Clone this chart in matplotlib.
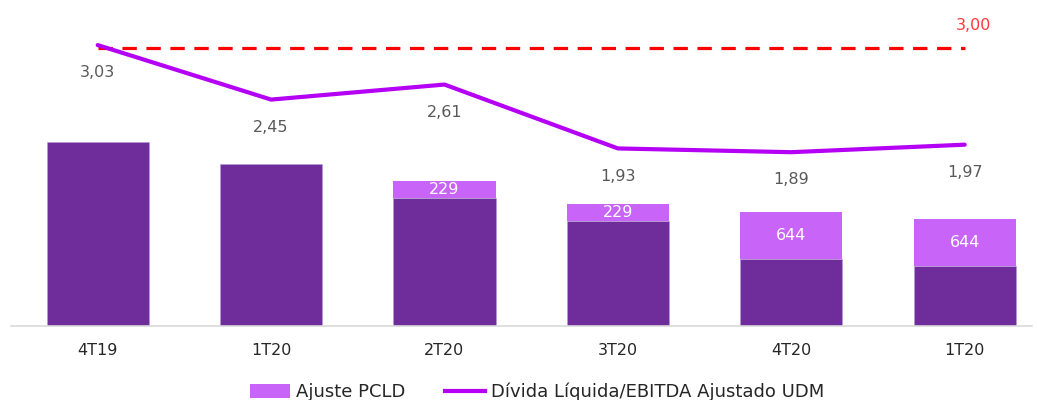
import matplotlib
matplotlib.use("Agg")
import matplotlib.pyplot as plt
from matplotlib.patches import Patch
from matplotlib.lines import Line2D

categories = ["4T19", "1T20", "2T20", "3T20", "4T20", "1T20"]
divida_base = [2510, 2210, 1750, 1435, 915, 820]
ajuste_pcld = [0, 0, 229, 229, 644, 644]
alavancagem = [3.03, 2.45, 2.61, 1.93, 1.89, 1.97]
covenant = [3.00] * 6
alav_labels = ["3,03", "2,45", "2,61", "1,93", "1,89", "1,97"]
covenant_label = "3,00"

DARK = "#6E2D9B"
LIGHT = "#C864F8"
LINE = "#B400F5"
RED = "#FF0000"
GRAY = "#595959"
FONT = "DejaVu Sans"

W, H = 1037, 400
fig = plt.figure(figsize=(W / 100, H / 100), dpi=100)
left_px, right_px, base_px, top_px = 11, 1032, 326, 0
ax = fig.add_axes([left_px / W, 1 - base_px / H, (right_px - left_px) / W, (base_px - top_px) / H])
x = list(range(len(categories)))
spacing = 173.4
ax.set_xlim(-0.5, -0.5 + (right_px - left_px) / spacing)
ax.set_ylim(0, 4450)

bw = 0.59
ax.bar(x, divida_base, width=bw, color=DARK, edgecolor="#B99AD6", linewidth=0.4, zorder=2)
ax.bar(x, ajuste_pcld, width=bw, bottom=divida_base, color=LIGHT, linewidth=0, zorder=2)
for xi, b, a in zip(x, divida_base, ajuste_pcld):
    if a > 0:
        ax.text(xi, b + a / 2, f"{a}", color="white", ha="center", va="center",
                fontsize=11.5, family=FONT, zorder=4)

for s in ["top", "right", "left"]:
    ax.spines[s].set_visible(False)
ax.spines["bottom"].set_color("#D9D9D9")
ax.spines["bottom"].set_linewidth(1.2)
ax.set_yticks([])
ax.set_xticks(x)
ax.set_xticklabels(categories, fontsize=11.5, color="#262626", family=FONT)
ax.tick_params(axis="x", length=0, pad=12)

ax2 = ax.twinx()
ax2.set_ylim(0.04, 3.51)
ax2.set_yticks([])
for s in ax2.spines.values():
    s.set_visible(False)
ax2.plot(x, covenant, color=RED, linewidth=2.3, dashes=(4.5, 3), zorder=3)
ax2.plot(x, alavancagem, color=LINE, linewidth=3.0, solid_capstyle="round", zorder=4)
for xi, v, lab in zip(x, alavancagem, alav_labels):
    ax2.annotate(lab, (xi, v), xytext=(0, -20), textcoords="offset points",
                 ha="center", va="center", fontsize=11.5, color=GRAY, family=FONT)
ax2.annotate(covenant_label, (x[-1], covenant[-1]), xytext=(6, 16), textcoords="offset points",
             ha="center", va="center", fontsize=11.5, color="#FF3838", family=FONT)

handles = [Patch(facecolor=LIGHT, edgecolor="none"),
           Line2D([0], [0], color=LINE, linewidth=3.0)]
fig.legend(handles, ["Ajuste PCLD", "Dívida Líquida/EBITDA Ajustado UDM"],
           loc="center", bbox_to_anchor=(537 / W, 1 - 392 / H), ncol=2, frameon=False,
           prop={"family": FONT, "size": 13}, handlelength=2.2, handleheight=0.8,
           handletextpad=0.35, columnspacing=2.2, labelcolor="#262626")

fig.savefig("out.png", dpi=100, facecolor="white")
